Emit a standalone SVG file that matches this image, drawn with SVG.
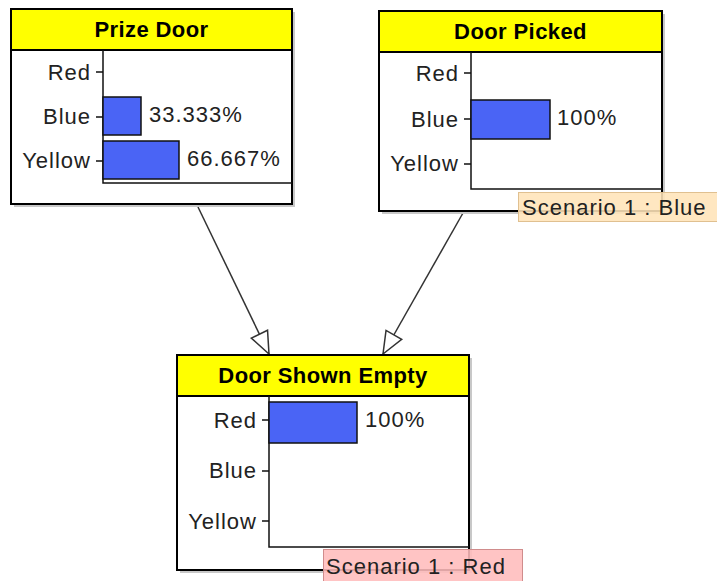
<svg xmlns="http://www.w3.org/2000/svg" width="717" height="581" viewBox="0 0 717 581">
<style>
.shadow{fill:#c8c8c8}
.box{fill:#fff;stroke:#000;stroke-width:2}
.hdr{fill:#ffff00;stroke:#000;stroke-width:2}
.title{font-family:"Liberation Sans",Arial,sans-serif;font-size:22px;font-weight:bold;letter-spacing:0.4px;text-anchor:middle;fill:#000}
.lbl{font-family:"Liberation Sans",Arial,sans-serif;font-size:22px;letter-spacing:1px;fill:#222}
.lblr{text-anchor:end}
.axis{fill:none;stroke:#111;stroke-width:1.5}
.bar{fill:#4a64f5;stroke:#111;stroke-width:1.5}
.conn{stroke:#333;stroke-width:1.5;fill:none;marker-end:url(#arr)}
.scn-b{fill:#ffe4b8;fill-opacity:0.88;stroke:#e0c090;stroke-width:1}
.scn-r{fill:#ffbcbc;fill-opacity:0.88;stroke:#d08c8c;stroke-width:1}
</style>
<defs>
<marker id="arr" markerUnits="userSpaceOnUse" markerWidth="26" markerHeight="22" viewBox="-1 -1 26 22" refX="23" refY="10" orient="auto">
<path d="M23,10 L1,1 L1,19 Z" fill="#fff" stroke="#333" stroke-width="1.5"/>
</marker>
</defs>

<g id="connectors">
<line class="conn" x1="198" y1="207" x2="269" y2="354"/>
<line class="conn" x1="463" y1="213" x2="383" y2="354"/>
</g>

<g id="prize-door">
<rect class="shadow" x="14" y="12" width="281" height="195"/>
<rect class="box" x="11" y="9" width="281" height="195"/>
<rect class="hdr" x="11" y="9" width="281" height="41"/>
<text class="title" x="151.5" y="37">Prize Door</text>
<path class="axis" d="M103,50 V183 H292"/>
<path class="axis" d="M96,72 H103 M96,117 H103 M96,161 H103"/>
<text class="lbl lblr" x="91" y="80">Red</text>
<text class="lbl lblr" x="91" y="124">Blue</text>
<text class="lbl lblr" x="91" y="168">Yellow</text>
<rect class="bar" x="103" y="97" width="38" height="38"/>
<rect class="bar" x="103" y="141" width="76" height="38"/>
<text class="lbl" x="149" y="122">33.333%</text>
<text class="lbl" x="187" y="166">66.667%</text>
</g>

<g id="door-picked">
<rect class="shadow" x="382" y="14" width="283" height="200"/>
<rect class="box" x="379" y="11" width="283" height="200"/>
<rect class="hdr" x="379" y="11" width="283" height="41"/>
<text class="title" x="520.5" y="39">Door Picked</text>
<path class="axis" d="M471,52 V189 H662"/>
<path class="axis" d="M464,73 H471 M464,119 H471 M464,164 H471"/>
<text class="lbl lblr" x="459" y="81">Red</text>
<text class="lbl lblr" x="459" y="127">Blue</text>
<text class="lbl lblr" x="459" y="171">Yellow</text>
<rect class="bar" x="471" y="100" width="79" height="39"/>
<text class="lbl" x="557" y="125">100%</text>
<rect class="scn-b" x="518.5" y="192.5" width="205" height="29"/>
<text class="lbl" x="522" y="215">Scenario 1 : Blue</text>
</g>

<g id="door-shown-empty">
<rect class="shadow" x="180" y="358" width="292" height="215"/>
<rect class="box" x="177" y="355" width="292" height="215"/>
<rect class="hdr" x="177" y="355" width="292" height="41"/>
<text class="title" x="323" y="383">Door Shown Empty</text>
<path class="axis" d="M269,396 V547 H469"/>
<path class="axis" d="M262,420 H269 M262,471 H269 M262,521 H269"/>
<text class="lbl lblr" x="257" y="428">Red</text>
<text class="lbl lblr" x="257" y="478">Blue</text>
<text class="lbl lblr" x="257" y="529">Yellow</text>
<rect class="bar" x="269" y="402" width="88" height="41"/>
<text class="lbl" x="365" y="427">100%</text>
<rect class="scn-r" x="323.5" y="549.5" width="199" height="32"/>
<text class="lbl" x="326" y="574">Scenario 1 : Red</text>
</g>
</svg>
